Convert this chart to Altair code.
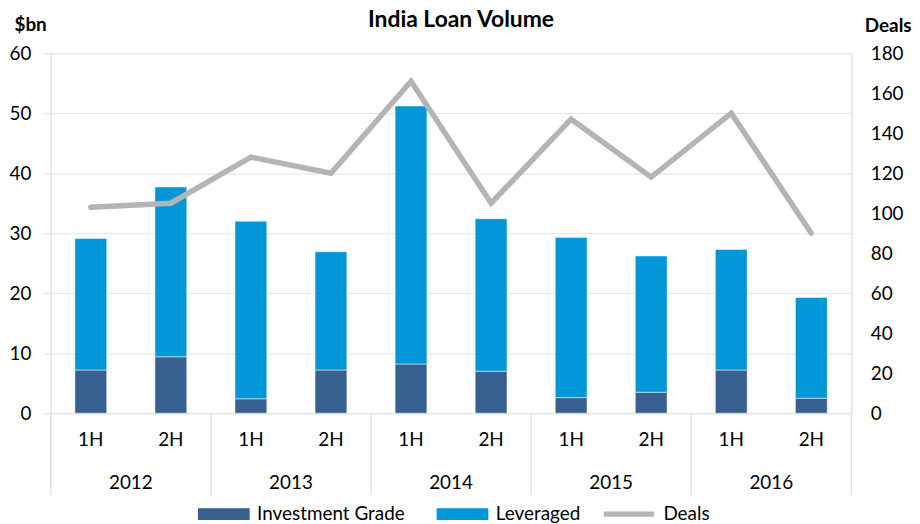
import altair as alt
import pandas as pd

years = ["2012", "2013", "2014", "2015", "2016"]
halves = ["1H", "2H"]
cats = [f"{y}-{h}" for y in years for h in halves]
investment_grade = [7.2, 9.4, 2.4, 7.2, 8.2, 7.0, 2.6, 3.5, 7.2, 2.5]
totals = [29.1, 37.7, 32.0, 26.9, 51.2, 32.4, 29.3, 26.2, 27.3, 19.3]
deals = [103, 105, 128, 120, 166, 105, 147, 118, 150, 90]

FONT = "Lato"
IG_COL = "#375F8F"
LEV_COL = "#0096D8"
DEAL_COL = "#B4B4B4"
GRID = "#E3E3E3"

W, H = 805, 362
step = W / len(cats)

bars_df = pd.DataFrame(
    {
        "cat": cats,
        "ig": investment_grade,
        "total": totals,
        "ig_name": ["Investment Grade"] * len(cats),
        "lev_name": ["Leveraged"] * len(cats),
    }
)
deals_df = pd.DataFrame({"cat": cats, "deals": deals, "name": ["Deals"] * len(cats)})
years_df = pd.DataFrame({"cat": [f"{y}-1H" for y in years], "year": years})
right_edge_df = pd.DataFrame({"cat": [cats[-1]]})

xscale = alt.Scale(domain=cats, paddingInner=0.6, paddingOuter=0.3)
yscale = alt.Scale(domain=[0, 60], nice=False)
xenc = alt.X(
    "cat:N",
    scale=xscale,
    sort=cats,
    axis=alt.Axis(
        title=None,
        labelExpr="split(datum.value, '-')[1]",
        labelAngle=0,
        ticks=False,
        domain=False,
        labelPadding=17,
        labelFontSize=19,
        labelFont=FONT,
        labelColor="#000000",
    ),
)
x_plain = alt.X("cat:N", scale=xscale, sort=cats)

left_axis = alt.Axis(
    title="$bn",
    titleAngle=0,
    titleAlign="left",
    titleBaseline="middle",
    titleX=-37,
    titleY=-29,
    titleFont=FONT,
    titleFontSize=19,
    titleFontWeight="bold",
    titleColor="#000000",
    values=[0, 10, 20, 30, 40, 50, 60],
    labelFont=FONT,
    labelFontSize=19,
    labelColor="#000000",
    labelPadding=12,
    tickSize=8,
    tickColor=GRID,
    domainColor=GRID,
    gridColor=GRID,
    grid=True,
)

LEG_Y = 454


def legend_at(x, offset, symbol, size=169, stroke_width=0):
    return alt.Legend(
        title=None,
        orient="none",
        legendX=x,
        legendY=LEG_Y,
        symbolType=symbol,
        symbolSize=size,
        symbolStrokeWidth=stroke_width,
        symbolOpacity=1,
        labelFont=FONT,
        labelFontSize=19,
        labelColor="#000000",
        labelOffset=offset,
        padding=0,
    )


RECT = "M-4,-0.92H4V0.92H-4Z"

ig_bars = (
    alt.Chart(bars_df)
    .mark_bar(size=32, stroke="white", strokeWidth=0.5)
    .encode(
        x=xenc,
        y=alt.Y("ig:Q", scale=yscale, axis=left_axis),
        y2=alt.value(H),
        fill=alt.Fill(
            "ig_name:N",
            scale=alt.Scale(domain=["Investment Grade"], range=[IG_COL]),
            legend=legend_at(164.5, 24, RECT),
        ),
    )
)

lev_bars = (
    alt.Chart(bars_df)
    .mark_bar(size=32, stroke="white", strokeWidth=0.5)
    .encode(
        x=x_plain,
        y=alt.Y("ig:Q", scale=yscale, axis=left_axis),
        y2="total:Q",
        color=alt.Color(
            "lev_name:N",
            scale=alt.Scale(domain=["Leveraged"], range=[LEV_COL]),
            legend=legend_at(404.5, 24, RECT),
        ),
    )
)

line = (
    alt.Chart(deals_df)
    .mark_line(strokeWidth=5.5, strokeJoin="miter", strokeCap="round")
    .encode(
        x=x_plain,
        y=alt.Y(
            "deals:Q",
            scale=alt.Scale(domain=[0, 180], nice=False),
            axis=alt.Axis(
                title="Deals",
                orient="right",
                titleAngle=0,
                titleAlign="left",
                titleBaseline="middle",
                titleX=13,
                titleY=-28,
                titleFont=FONT,
                titleFontSize=19,
                titleFontWeight="bold",
                titleColor="#000000",
                values=[0, 20, 40, 60, 80, 100, 120, 140, 160, 180],
                labelFont=FONT,
                labelFontSize=19,
                labelColor="#000000",
                labelPadding=19,
                ticks=False,
                domainColor=GRID,
                grid=False,
            ),
        ),
        stroke=alt.Stroke(
            "name:N",
            scale=alt.Scale(domain=["Deals"], range=[DEAL_COL]),
            legend=legend_at(572, 25, "M-3.9,0H3.9", stroke_width=5.5),
        ),
    )
)

year_text = (
    alt.Chart(years_df)
    .mark_text(dx=step / 2, font=FONT, fontSize=19, color="#000000", baseline="middle")
    .encode(x=x_plain, y=alt.value(432), text="year:N")
)

sep_left = (
    alt.Chart(years_df)
    .mark_rule(color=GRID, strokeWidth=1.5, xOffset=-step / 2)
    .encode(x=x_plain, y=alt.value(H), y2=alt.value(444))
)

sep_right = (
    alt.Chart(right_edge_df)
    .mark_rule(color=GRID, strokeWidth=1.5, xOffset=step / 2)
    .encode(x=x_plain, y=alt.value(H), y2=alt.value(444))
)

bars = alt.layer(ig_bars, lev_bars)

chart = (
    alt.layer(bars, line, year_text, sep_left, sep_right)
    .resolve_scale(y="independent")
    .properties(
        width=W,
        height=H,
        title=alt.Title(
            "India Loan Volume",
            font=FONT,
            fontSize=23,
            fontWeight="bold",
            color="#000000",
            anchor="middle",
            offset=-17,
            dx=10,
        ),
    )
    .configure_view(stroke=None)
    .configure(padding={"left": 0, "top": 0, "right": 0, "bottom": 0})
)

chart.save("out.html", embed_options={"renderer": "svg", "actions": False})
